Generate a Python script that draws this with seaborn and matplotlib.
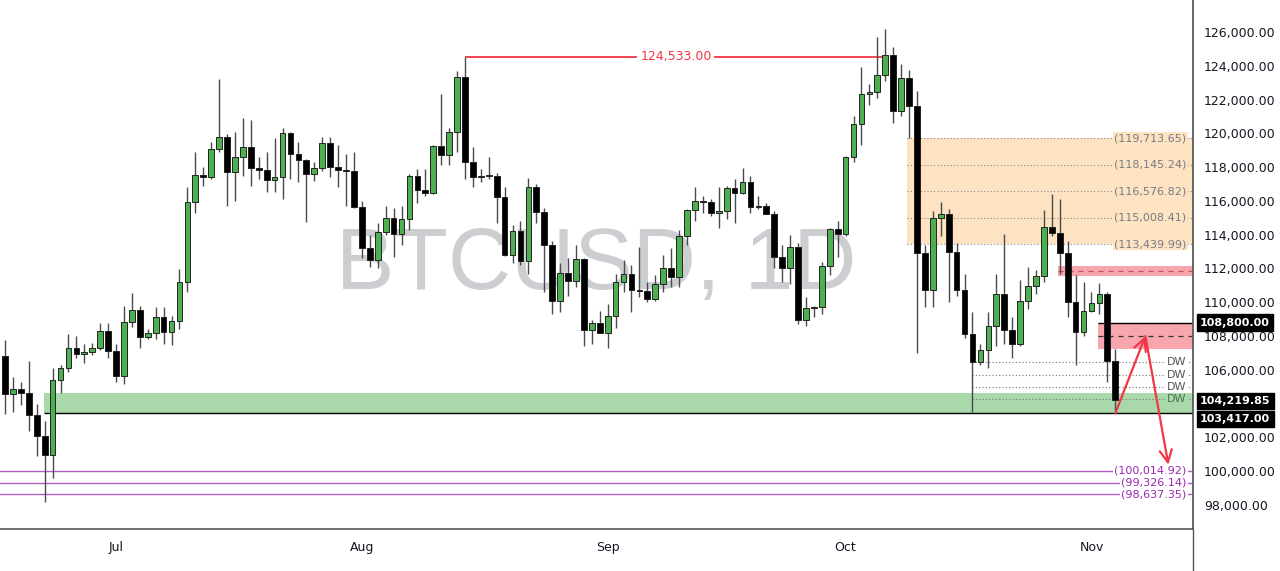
import numpy as np
import pandas as pd
import seaborn as sns
import matplotlib.pyplot as plt
from matplotlib.lines import Line2D
import matplotlib.transforms as mtransforms

# daily BTCUSD candles, 17 Jun -> 4 Nov
dates = pd.date_range("2025-06-17", "2025-11-04", freq="D")
opens = [106800, 104550, 104850, 104650, 103300, 102100, 100950, 105400, 106100, 107300,
         106950, 107050, 107300, 108300, 107100, 105650, 108850, 109550, 107950, 108200,
         109150, 108250, 108900, 111200, 115950, 117550, 117400, 119100, 119800, 117700,
         118600, 119200, 117950, 117850, 117250, 117400, 120000, 118750, 118400, 117600,
         117950, 119400, 118000, 117850, 117750, 115650, 113200, 112500, 114150, 115000,
         114050, 114950, 117450, 116650, 116450, 119250, 118700, 120050, 123350, 118300,
         117400, 117450, 117450, 116250, 112800, 114200, 112450, 116850, 115350, 113400,
         110100, 111750, 111250, 112550, 108350, 108800, 108200, 109200, 111200, 111700,
         110700, 110650, 110200, 111100, 112050, 111500, 113900, 115450, 116000, 115950,
         115300, 115400, 116750, 116450, 117100, 115650, 115700, 115250, 112700, 112000,
         113300, 108950, 109650, 109700, 112150, 114350, 114050, 118600, 120550, 122300,
         122450, 123450, 124650, 121350, 123300, 121600, 112900, 110700, 115000, 115250,
         113000, 110750, 108150, 106450, 107150, 108600, 110500, 108350, 107550, 110100,
         110950, 111550, 114450, 114100, 112900, 110000, 108250, 109500, 109950, 110500,
         106500]
highs = [107750, 105550, 105250, 106500, 104000, 103000, 106100, 106300, 108100, 108000,
         107500, 107600, 108800, 108800, 107500, 109800, 110550, 109750, 108400, 109700,
         109700, 109200, 111950, 116800, 118900, 118000, 119500, 123200, 119950, 120100,
         120900, 120800, 118600, 118900, 119700, 120300, 120100, 119500, 118500, 118300,
         119800, 119800, 119300, 118800, 118900, 116000, 114000, 114700, 115700, 115600,
         115700, 117600, 117900, 117900, 119300, 122300, 120300, 123700, 124533, 119200,
         117900, 118600, 117650, 116800, 114600, 114800, 117350, 117000, 115600, 113600,
         112300, 112600, 113400, 112600, 108950, 109500, 109900, 111700, 112500, 112200,
         113300, 111200, 111600, 112800, 113200, 114300, 115500, 116800, 116300, 116100,
         116800, 116900, 117300, 117950, 117500, 116300, 115900, 115400, 113400, 114000,
         113500, 110300, 109800, 112400, 114400, 114800, 118650, 121000, 123900, 122950,
         125700, 126200, 125100, 124100, 123750, 122500, 113400, 115400, 115950, 115500,
         113500, 111700, 109400, 107500, 109400, 111700, 114050, 109100, 111300, 112100,
         111900, 115450, 116400, 116100, 113600, 111600, 111200, 110600, 111150, 110600,
         107250]
lows = [103400, 103500, 103900, 102400, 100900, 98200, 99600, 104600, 105900, 106700,
        106400, 106900, 107200, 106700, 105300, 105150, 108550, 107300, 107800, 107800,
        107500, 107450, 108400, 110600, 115300, 116900, 117300, 118900, 115700, 116000,
        117500, 116900, 117300, 116500, 116500, 116100, 117300, 117100, 114750, 117200,
        117800, 117400, 116850, 115700, 115600, 112600, 112100, 112000, 114000, 112700,
        113400, 114300, 115900, 116300, 116400, 118150, 118100, 118900, 117300, 116800,
        117100, 117300, 114700, 112750, 112350, 112200, 111700, 114700, 110600, 109300,
        109400, 110400, 110900, 107400, 107500, 108200, 107300, 108500, 110600, 109400,
        110300, 110000, 110100, 110600, 110900, 110900, 113400, 114800, 115300, 115100,
        114400, 114900, 114700, 116400, 115300, 115500, 115200, 112000, 111200, 111100,
        108700, 108600, 109100, 109300, 111600, 112700, 113950, 118300, 119300, 121700,
        122100, 123100, 120600, 121000, 119700, 107000, 109700, 109700, 113900, 110000,
        110400, 107900, 103500, 106300, 106100, 107400, 107500, 106700, 107400, 109600,
        110500, 111200, 113900, 111700, 109100, 106300, 108000, 109400, 109300, 105250,
        103417]
closes = opens[1:] + [104219.85]

month_days = ["2025-07-01", "2025-08-01", "2025-09-01", "2025-10-01", "2025-11-01"]
month_labels = ["Jul", "Aug", "Sep", "Oct", "Nov"]
# 104,000 sits under the price boxes and is hidden on the reference
price_ticks = [98000, 100000, 102000, 106000, 108000, 110000, 112000, 114000,
               116000, 118000, 120000, 122000, 124000, 126000]

# levels drawn on the chart
ath_level = 124533
fib_levels = [119713.65, 118145.24, 116576.82, 115008.41, 113439.99]
dw_levels = [106470, 105720, 104990, 104260]
target_levels = [100014.92, 99326.14, 98637.35]
support_zone = (103417, 104640)
supply_zone_1 = (111560, 112150)
supply_zone_2 = (107260, 108800)
last_price = 104219.85
zone_low = 103417

sns.set_theme(style="white")
plt.rcParams["font.family"] = ["DejaVu Sans"]

fig = plt.figure(figsize=(12.8, 5.71), dpi=100)
ax = fig.add_axes([0, 0.0727, 0.932, 0.9273])

df = pd.DataFrame({"date": dates, "open": opens, "high": highs, "low": lows, "close": closes})
df["x"] = np.arange(len(df))
up = df["close"] >= df["open"]
body_bottom = df[["open", "close"]].min(axis=1)
body_height = (df["close"] - df["open"]).abs().clip(lower=60)

# watermark
ax.text(74.5, 112090, "BTCUSD, 1D", fontsize=63, color="#CDCED2", ha="center", va="center",
        family="Liberation Sans", zorder=1)

# zones
orange = "#FDE3C2"
green = "#A9D8AA"
pink = "#F7A6AD"
last_x = df["x"].iloc[-1]
ax.axhspan(fib_levels[-1], fib_levels[0], xmin=(113.7 + 0.63) / 150.43, xmax=1, color=orange, lw=0, zorder=0)
ax.axhspan(*support_zone, xmin=(4.9 + 0.63) / 150.43, xmax=1, color=green, lw=0, zorder=0)
ax.axhspan(*supply_zone_1, xmin=(132.8 + 0.63) / 150.43, xmax=1, color=pink, lw=0, zorder=0)
ax.axhspan(*supply_zone_2, xmin=(137.8 + 0.63) / 150.43, xmax=1, color=pink, lw=0, zorder=0)
ax.hlines(sum(supply_zone_1) / 2, 132.8, 150, color="#C0505A", lw=0.9, ls=(0, (4, 4)), zorder=2)
ax.hlines(108030, 137.8, 150, color="#333333", lw=0.9, ls=(0, (4, 4)), zorder=2)
ax.hlines(supply_zone_2[1], 137.8, 150, color="black", lw=1, zorder=2)
ax.hlines(zone_low, 4.9, 150, color="black", lw=1, zorder=2)

# fib lines
for lv in fib_levels:
    ax.hlines(lv, 113.7, 150, color="#8A8A8A", lw=0.8, ls=(0, (1, 2)), zorder=2)
    ax.text(149.0, lv, "({:,.2f})".format(lv), fontsize=8, color="#787B86", ha="right", va="center",
            bbox=dict(facecolor=orange, edgecolor="none", pad=1), zorder=3)

# DW lines
for i, lv in enumerate(dw_levels):
    ax.hlines(lv, 122, 150, color="#777777", lw=0.8, ls=(0, (1, 2)), zorder=2)
    fc = green if i == 3 else "white"
    tc = "#4E6E52" if i == 3 else "#555555"
    ax.text(149.0, lv, "DW", fontsize=8, color=tc, ha="right", va="center",
            bbox=dict(facecolor=fc, edgecolor="none", pad=1), zorder=3)

# targets
for lv in target_levels:
    ax.hlines(lv, -1, 150, color="#B15DC4", lw=1, zorder=2)
    ax.text(149.0, lv, "({:,.2f})".format(lv), fontsize=8, color="#9C27B0", ha="right", va="center",
            bbox=dict(facecolor="white", edgecolor="none", pad=1), zorder=3)

# ATH line
ax.hlines(ath_level, 58, 111.5, color="#F23645", lw=1.3, zorder=2)
ax.text(84.6, ath_level, "{:,.2f}".format(ath_level), fontsize=9, color="#F23645", ha="center", va="center",
        bbox=dict(facecolor="white", edgecolor="none", pad=2), zorder=3)

# candles
ax.vlines(df["x"], df["low"], df["high"], color="#4A4A4A", lw=1, zorder=3)
ax.bar(df["x"], body_height, bottom=body_bottom, width=0.72,
       color=np.where(up, "#4CAF50", "black"), edgecolor="#222222", lw=0.7, zorder=4)

# projection arrows
arrow = dict(arrowstyle="->", color="#F23645", lw=1.6, mutation_scale=22, shrinkA=0, shrinkB=0)
ax.annotate("", xy=(143.8, 108000), xytext=(last_x, zone_low), arrowprops=arrow, zorder=5)
ax.annotate("", xy=(146.7, 100380), xytext=(143.8, 108000), arrowprops=arrow, zorder=5)

# price scale
ax.set_xlim(-0.63, 149.8)
ax.set_ylim(96548, 127894)
ax.yaxis.tick_right()
ax.set_yticks(price_ticks)
ax.set_yticklabels(["{:,.2f}".format(v) for v in price_ticks])
ax.set_xticks([dates.get_loc(pd.Timestamp(d)) for d in month_days])
ax.set_xticklabels(month_labels)
ax.tick_params(axis="y", length=0, pad=8, labelsize=9, labelcolor="#131722")
ax.tick_params(axis="x", length=0, pad=8, labelsize=9, labelcolor="#131722")

trans = mtransforms.blended_transform_factory(ax.transAxes, ax.transData)
for lv, txt in [(supply_zone_2[1], "{:,.2f}".format(supply_zone_2[1])),
                (last_price - 60, "{:,.2f}".format(last_price)),
                (zone_low - 320, "{:,.2f}".format(zone_low))]:
    ax.text(1.006, lv, txt, transform=trans, fontsize=8, fontweight="bold", color="white",
            ha="left", va="center", clip_on=False, zorder=6,
            bbox=dict(boxstyle="square,pad=0.3", facecolor="black", edgecolor="black"))

sns.despine(ax=ax, top=True, left=True, right=False, bottom=False)
ax.spines["right"].set_color("#555555")
ax.spines["bottom"].set_color("#555555")
ax.spines["bottom"].set_linewidth(1.2)
fig.add_artist(Line2D([0.932, 0.932], [0, 0.0727], transform=fig.transFigure, color="#555555", lw=1))

fig.savefig("out.png", dpi=100)
